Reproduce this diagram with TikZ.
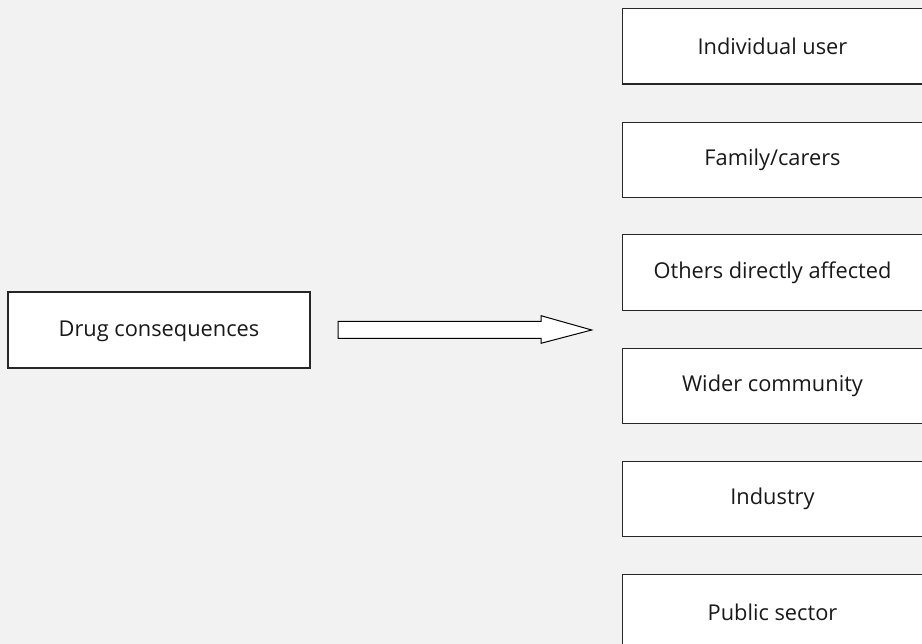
\documentclass[tikz,border=0pt]{standalone}
\usepackage{fontspec}
\setmainfont{Open Sans}
\begin{document}
\begin{tikzpicture}[x=1pt,y=-1pt,
  box/.style={draw=black!85,line width=1.1pt,fill=white,rectangle,inner sep=0pt},
  lbl/.style={font=\fontsize{21.8}{24}\selectfont,text=black!90,inner sep=0pt}]
\fill[black!5] (0,0) rectangle (922,644);
\useasboundingbox (0,0) rectangle (922,644);
\clip (0,0) rectangle (922,644);
% left box
\node[box,minimum width=302pt,minimum height=76pt] (drug) at (159,330) {};
\node[lbl] (drugt) at (159,331) {Drug consequences};
% block arrow
\draw[line width=1pt,fill=white,line join=miter]
  (338,321.3) -- (541,321.3) -- (541,315.7) -- (591.7,330) -- (541,343.3) -- (541,338.3) -- (338,338.3) -- cycle;
% right boxes
\foreach \n/\t/\top in {a/Individual user/8,
                        b/Family\slash carers/121.7,
                        c/Others directly affected/234.3,
                        d/Wider community/347.7,
                        e/Industry/460.7,
                        f/Public sector/574}{
  \node[box,minimum width=330pt,minimum height=75.5pt,anchor=north west] (\n) at (622,\top) {};
  \node[lbl] (\n t) at (772.5,\top+38.5) {\t};
}
\end{tikzpicture}
\end{document}
